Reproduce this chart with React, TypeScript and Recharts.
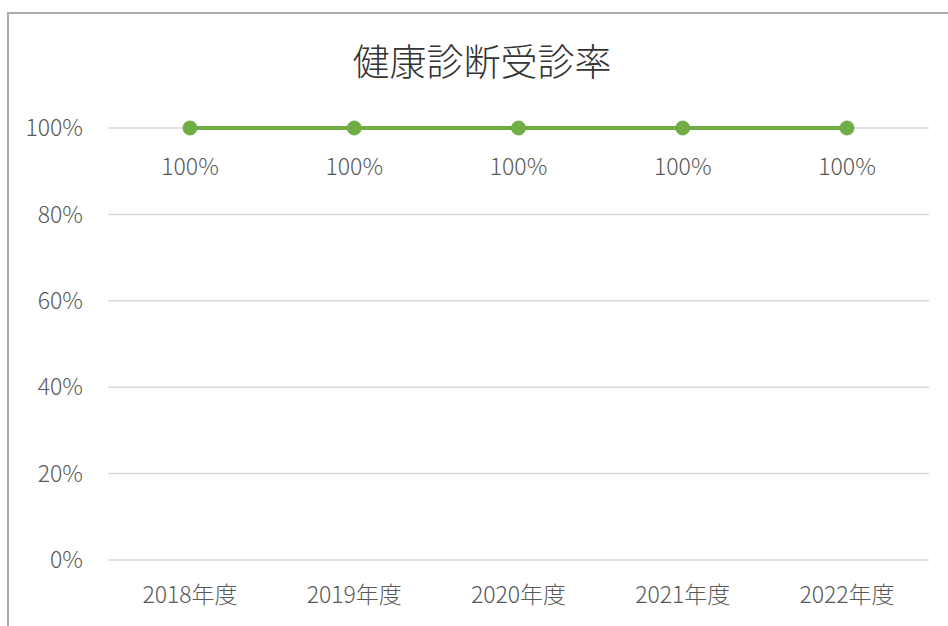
import React from 'react';
import { LineChart, Line, XAxis, YAxis, CartesianGrid, LabelList } from 'recharts';

const categories = ['2018年度', '2019年度', '2020年度', '2021年度', '2022年度'];
const rates = [1, 1, 1, 1, 1];
const yTicks = [0, 0.2, 0.4, 0.6, 0.8, 1];
const title = '健康診断受診率';

const data = categories.map((c, i) => ({ name: c, rate: rates[i] }));

const FONT = '"Noto Sans CJK JP", "Noto Sans", sans-serif';
const pct = (v: number) => `${Math.round(v * 100)}%`;

const DataLabel = (props: any) => {
  const { x, y, value } = props;
  return (
    <text x={x} y={y + 47} textAnchor="middle" fill="#595959" fontSize={23} fontWeight={300} fontFamily={FONT}>
      {pct(value)}
    </text>
  );
};

export default function App() {
  return (
    <div style={{ position: 'absolute', left: 0, top: 0, width: 948, height: 626, overflow: 'hidden', background: '#fff' }}>
      <div
        style={{
          position: 'absolute',
          left: 7,
          top: 12,
          width: 960,
          height: 640,
          border: '2px solid #ABABAB',
          boxSizing: 'border-box',
        }}
      />
      <div
        style={{
          position: 'absolute',
          left: 0,
          width: 964,
          top: 42,
          textAlign: 'center',
          fontFamily: FONT,
          fontSize: 37,
          fontWeight: 300,
          lineHeight: '37px',
          color: '#333333',
        }}
      >
        {title}
      </div>
      <div style={{ position: 'absolute', left: 0, top: 0 }}>
        <LineChart width={948} height={626} data={data} margin={{ top: 128, right: 19, bottom: 0, left: 8 }}>
          <CartesianGrid vertical={false} stroke="#D9D9D9" strokeWidth={1.5} />
          <XAxis
            dataKey="name"
            axisLine={false}
            tickLine={false}
            tickSize={0}
            tickMargin={27}
            height={66}
            interval={0}
            padding={{ left: 82, right: 82 }}
            tick={{ fill: '#595959', fontSize: 23, fontWeight: 300, fontFamily: FONT }}
          />
          <YAxis
            domain={[0, 1]}
            ticks={yTicks}
            tickFormatter={pct}
            axisLine={false}
            tickLine={false}
            tickSize={0}
            tickMargin={25}
            width={100}
            tick={{ fill: '#595959', fontSize: 23, fontWeight: 300, fontFamily: FONT }}
          />
          <Line
            type="linear"
            dataKey="rate"
            stroke="#70AD47"
            strokeWidth={4}
            dot={{ r: 7, fill: '#70AD47', stroke: '#70AD47', strokeWidth: 1 }}
            activeDot={false}
            isAnimationActive={false}
          >
            <LabelList dataKey="rate" content={DataLabel} />
          </Line>
        </LineChart>
      </div>
    </div>
  );
}
